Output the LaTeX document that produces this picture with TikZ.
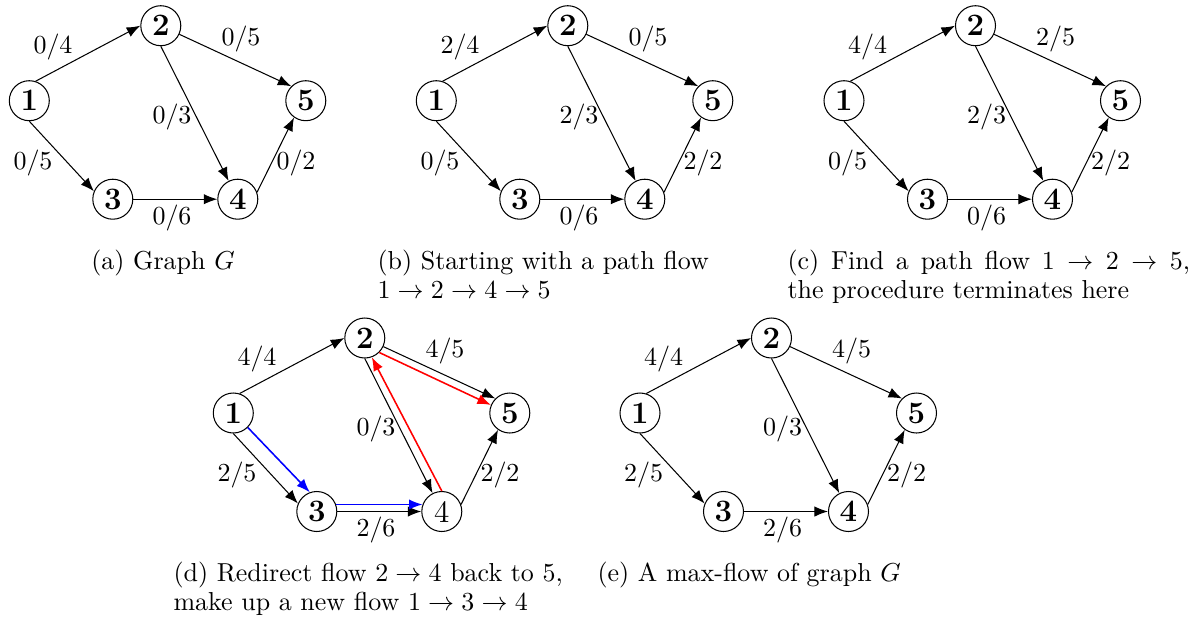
\documentclass[tikz,border=0pt]{standalone}
\usepackage{amsmath}
\usepackage{tikz}
\usetikzlibrary{arrows.meta}

\begin{document}
\begin{tikzpicture}[
    x=0.385pt, y=-0.385pt,
    vtx/.style={draw, circle, minimum size=15.4pt, inner sep=0pt, font=\large\bfseries},
    flw/.style={inner sep=1pt},
    capt/.style={anchor=base west, inner sep=0pt, font=\fontsize{10}{11}\selectfont, text width=160pt, align=left},
    >={Latex[length=5.2pt, width=4pt]}
]
\useasboundingbox (0,0) rectangle (1191,626);

% (a) graph G
\begin{scope}[shift={(29.3,100.7)}]
\node[vtx] (a1) at (0,0) {1};
\node[vtx] (a2) at (131.5,-75) {2};
\node[vtx] (a3) at (83.5,98.5) {3};
\node[vtx] (a4) at (208.5,98.5) {4};
\node[vtx] (a5) at (276.5,0) {5};
\draw[->] (a1.72) -- (a2.west);
\draw[->] (a2) -- (a5.north west);
\draw[->] (a2.south) -- (a4);
\draw[->] (a1.south) -- (a3.157);
\draw[->] (a3) -- (a4);
\draw[->] (a4.20) -- (a5.235);
\node[flw] (a12) at (23.7,-53.7) {$0/4$};
\node[flw] (a25) at (211.7,-61.7) {$0/5$};
\node[flw] (a24) at (142.7,16.3) {$0/3$};
\node[flw] (a13) at (3.7,62.3) {$0/5$};
\node[flw] (a34) at (142.7,117.3) {$0/6$};
\node[flw] (a45) at (266.7,62.3) {$0/2$};
\end{scope}

% (b) first path flow
\begin{scope}[shift={(436.3,100.7)}]
\node[vtx] (b1) at (0,0) {1};
\node[vtx] (b2) at (131.5,-75) {2};
\node[vtx] (b3) at (83.5,98.5) {3};
\node[vtx] (b4) at (208.5,98.5) {4};
\node[vtx] (b5) at (276.5,0) {5};
\draw[->] (b1.72) -- (b2.west);
\draw[->] (b2) -- (b5.north west);
\draw[->] (b2.south) -- (b4);
\draw[->] (b1.south) -- (b3.157);
\draw[->] (b3) -- (b4);
\draw[->] (b4.20) -- (b5.235);
\node[flw] (b12) at (23.7,-53.7) {$2/4$};
\node[flw] (b25) at (211.7,-61.7) {$0/5$};
\node[flw] (b24) at (142.7,16.3) {$2/3$};
\node[flw] (b13) at (3.7,62.3) {$0/5$};
\node[flw] (b34) at (142.7,117.3) {$0/6$};
\node[flw] (b45) at (266.7,62.3) {$2/2$};
\end{scope}

% (c) second path flow
\begin{scope}[shift={(844,100.7)}]
\node[vtx] (c1) at (0,0) {1};
\node[vtx] (c2) at (131.5,-75) {2};
\node[vtx] (c3) at (83.5,98.5) {3};
\node[vtx] (c4) at (208.5,98.5) {4};
\node[vtx] (c5) at (276.5,0) {5};
\draw[->] (c1.72) -- (c2.west);
\draw[->] (c2) -- (c5.north west);
\draw[->] (c2.south) -- (c4);
\draw[->] (c1.south) -- (c3.157);
\draw[->] (c3) -- (c4);
\draw[->] (c4.20) -- (c5.235);
\node[flw] (c12) at (23.7,-53.7) {$4/4$};
\node[flw] (c25) at (211.7,-61.7) {$2/5$};
\node[flw] (c24) at (142.7,16.3) {$2/3$};
\node[flw] (c13) at (3.7,62.3) {$0/5$};
\node[flw] (c34) at (142.7,117.3) {$0/6$};
\node[flw] (c45) at (266.7,62.3) {$2/2$};
\end{scope}

% (d) redirected flow
\begin{scope}[shift={(233.3,413)}]
\node[vtx] (d1) at (0,0) {1};
\node[vtx] (d2) at (131.5,-75) {2};
\node[vtx] (d3) at (83.5,98.5) {3};
\node[vtx, font=\large] (d4) at (208.5,98.5) {4};
\node[vtx] (d5) at (276.5,0) {5};
\draw[->] (d1.72) -- (d2.west);
\draw[->] (d2) -- (d5.north west);
\draw[->] (d2.south) -- (d4);
\draw[->] (d1.south) -- (d3.157);
\draw[->] (d3) -- (d4);
\draw[->] (d4.20) -- (d5.235);
\draw[->, blue, line width=0.6pt] (d1.south east) -- (d3.110);
\draw[->, blue, line width=0.6pt] (d3.20) -- (d4.160);
\draw[->, red, line width=0.6pt] (d4.north) -- (d2.-70);
\draw[->, red, line width=0.6pt] (d2.south east) -- (d5.157);
\node[flw] (d12) at (23.7,-53.7) {$4/4$};
\node[flw] (d25) at (211.7,-61.7) {$4/5$};
\node[flw] (d24) at (142.7,16.3) {$0/3$};
\node[flw] (d13) at (3.7,62.3) {$2/5$};
\node[flw] (d34) at (142.7,117.3) {$2/6$};
\node[flw] (d45) at (266.7,62.3) {$2/2$};
\end{scope}

% (e) max-flow
\begin{scope}[shift={(640,413)}]
\node[vtx] (e1) at (0,0) {1};
\node[vtx] (e2) at (131.5,-75) {2};
\node[vtx] (e3) at (83.5,98.5) {3};
\node[vtx] (e4) at (208.5,98.5) {4};
\node[vtx] (e5) at (276.5,0) {5};
\draw[->] (e1.72) -- (e2.west);
\draw[->] (e2) -- (e5.north west);
\draw[->] (e2.south) -- (e4);
\draw[->] (e1.south) -- (e3.157);
\draw[->] (e3) -- (e4);
\draw[->] (e4.20) -- (e5.235);
\node[flw] (e12) at (23.7,-53.7) {$4/4$};
\node[flw] (e25) at (211.7,-61.7) {$4/5$};
\node[flw] (e24) at (142.7,16.3) {$0/3$};
\node[flw] (e13) at (3.7,62.3) {$2/5$};
\node[flw] (e34) at (142.7,117.3) {$2/6$};
\node[flw] (e45) at (266.7,62.3) {$2/2$};
\end{scope}

% captions
\node[capt, text width=, align=center, anchor=base] (capa) at (163,269.5) {(a) Graph $G$};
\node[capt] (capb) at (377,269.5) {(b) Starting with a path flow\\$1 \rightarrow 2 \rightarrow 4 \rightarrow 5$};
\node[capt, text width=155pt, align=justify] (capc) at (787,269.5) {(c) Find a path flow $1 \rightarrow 2 \rightarrow 5$,\linebreak the procedure terminates here};
\node[capt] (capd) at (173,581.5) {(d) Redirect flow $2 \rightarrow 4$ back to 5,\\make up a new flow $1 \rightarrow 3 \rightarrow 4$};
\node[capt] (cape) at (597,581.5) {(e) A max-flow of graph $G$};
\end{tikzpicture}
\end{document}
